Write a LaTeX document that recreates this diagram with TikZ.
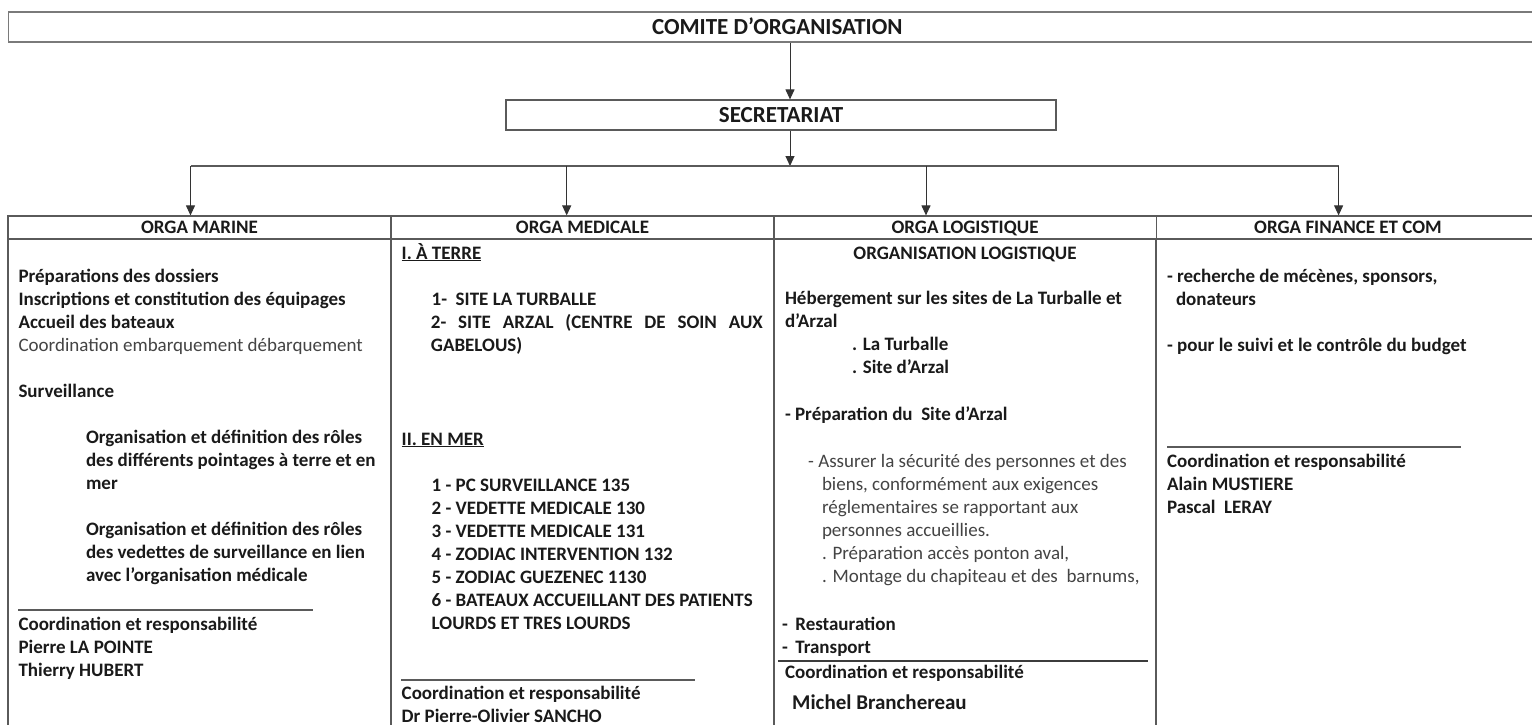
\documentclass[tikz,border=0pt]{standalone}
\usepackage{fontspec}
\setmainfont{Carlito}
\usetikzlibrary{arrows.meta}
\definecolor{ink}{HTML}{1A1A1A}
\definecolor{soft}{HTML}{444444}
\definecolor{framegray}{HTML}{7A7A7A}
\definecolor{rulegray}{HTML}{5A5A5A}
\definecolor{arrgray}{HTML}{333333}
\newcommand{\fsz}{\fontsize{19}{23}\selectfont}
\newcommand{\fbig}{\fontsize{23}{27}\selectfont}
\newcommand{\mytopstrut}{\rule{0pt}{16pt}}
\begin{document}
\begin{tikzpicture}[x=1pt,y=-1pt,
  blk/.style={anchor=north west, inner sep=0pt, outer sep=0pt, align=left, font=\fsz\bfseries, text=ink},
  line1/.style={anchor=base west, inner sep=0pt, outer sep=0pt, font=\fsz\bfseries, text=ink},
  softtxt/.style={blk, font=\fsz, text=soft},
  hdr/.style={draw=rulegray, line width=1.2pt, minimum width=383pt, minimum height=23pt, inner sep=0pt, font=\fsz\bfseries, text=ink, text height=12.2pt, text depth=0pt},
  topbox/.style={minimum height=30pt, inner sep=0pt, font=\fbig\bfseries, text=ink, text height=14.8pt, text depth=0pt},
  arr/.style={draw=arrgray, line width=1pt, -{Triangle[length=10pt,width=9pt]}},
  ruleline/.style={draw=rulegray, line width=1.1pt}]

\useasboundingbox (0,0) rectangle (1532,724);
\fill[white] (0,0) rectangle (1532,724);

% top boxes
\node[topbox, draw=framegray, line width=1.8pt, minimum width=1537.5pt] (comite) at (777.25,27) {COMITE D’ORGANISATION};
\node[topbox, draw=rulegray, line width=1.2pt, minimum width=550pt] (sec) at (781,115) {SECRETARIAT};

\coordinate (sx) at (790,0);
\coordinate (bus) at (790,166);
\coordinate (b1) at (190.5,166);
\coordinate (b2) at (566.7,166);
\coordinate (b3) at (926,166);
\coordinate (b4) at (1338.6,166);

\draw[arr] (comite.south -| sx) -- (sec.north -| sx);
\draw[arr] (sec.south -| sx) -- (bus);
\draw[ruleline] (b1) -- (b4);

% headers
\node[hdr] (h1) at (199.5,227.5) {ORGA MARINE};
\node[hdr] (h2) at (582.5,227.5) {ORGA MEDICALE};
\node[hdr] (h3) at (965,227.5) {ORGA LOGISTIQUE};
\node[hdr] (h4) at (1348,227.5) {ORGA FINANCE ET COM};

\draw[arr] (b1) -- (b1 |- h1.north);
\draw[arr] (b2) -- (b2 |- h2.north);
\draw[arr] (b3) -- (b3 |- h3.north);
\draw[arr] (b4) -- (b4 |- h4.north);

% body columns
\draw[draw=rulegray, line width=1.2pt] (8,239) -- (8,760) (391,239) -- (391,760) (774,239) -- (774,760) (1156,239) -- (1156,760);

% column 1
\node[blk] (m1) at (18.5,266.5) {\mytopstrut Préparations des dossiers\\Inscriptions et constitution des équipages\\Accueil des bateaux\\{\mdseries\color{soft}Coordination embarquement débarquement}\\[23pt]Surveillance};
\node[blk] (m2) at (86,427.5) {\mytopstrut Organisation et définition des rôles\\des différents pointages à terre et en\\mer\\[23pt]Organisation et définition des rôles\\des vedettes de surveillance en lien\\avec l’organisation médicale};
\draw[ruleline] (18,610) -- (313,610);
\node[blk] (m3) at (18.5,614.5) {\mytopstrut Coordination et responsabilité\\Pierre LA POINTE\\Thierry HUBERT};

% column 2
\node[line1] (d1) at (401.7,259) {\underline{I. À TERRE}};
\node[line1] (d2) at (431.7,305) {1-~ SITE LA TURBALLE};
\node[anchor=north west, inner sep=0pt, text width=332pt, align=justify, font=\fsz\bfseries, text=ink] (d3) at (430.7,312)
  {\mytopstrut 2- SITE ARZAL (CENTRE DE SOIN AUX\linebreak GABELOUS)};
\node[line1] (d4) at (401.7,445) {\underline{II. EN MER}};
\node[blk] (d5) at (431.7,475) {\mytopstrut 1 - PC SURVEILLANCE 135\\2 - VEDETTE MEDICALE 130\\3 - VEDETTE MEDICALE 131\\4 - ZODIAC INTERVENTION 132\\5 - ZODIAC GUEZENEC 1130\\6 - BATEAUX ACCUEILLANT DES PATIENTS\\LOURDS ET TRES LOURDS};
\draw[ruleline] (401,680) -- (695,680);
\node[blk] (d6) at (401.7,683) {\mytopstrut Coordination et responsabilité\\Dr Pierre-Olivier SANCHO};

% column 3
\node[anchor=base, inner sep=0pt, font=\fsz\bfseries, text=ink] (g1) at (965,259) {ORGANISATION LOGISTIQUE};
\node[blk] (g2) at (785,288.5) {\mytopstrut Hébergement sur les sites de La Turballe et\\d’Arzal};
\node[blk] (g3) at (852,334.5) {\mytopstrut . La Turballe\\. Site d’Arzal};
\node[line1] (g4) at (785,420.5) {- Préparation du~ Site d’Arzal};
\node[anchor=base west, inner sep=0pt, font=\fsz, text=soft] (g5) at (808,467.5) {- Assurer la sécurité des personnes et des};
\node[softtxt] (g6) at (822,474.5) {\mytopstrut biens, conformément aux exigences\\réglementaires se rapportant aux\\personnes accueillies.\\. Préparation accès ponton aval,\\. Montage du chapiteau et des~ barnums,};
\node[blk] (g7) at (782,614.5) {\mytopstrut -\hspace{7.5pt}Restauration\\-\hspace{7.5pt}Transport};
\draw[draw=ink!85, line width=2pt] (778,661) -- (1148,661);
\node[line1] (g8) at (785,678.5) {Coordination et responsabilité};
\node[anchor=base west, inner sep=0pt, font=\fontsize{21}{25}\selectfont\bfseries, text=ink] (g9) at (792,709) {Michel Branchereau};

% column 4
\node[blk] (f1) at (1167,266.5) {\mytopstrut - recherche de mécènes, sponsors,\\\hspace*{9pt}donateurs};
\node[line1] (f2) at (1167,351.5) {- pour le suivi et le contrôle du budget};
\draw[ruleline] (1167,447) -- (1461,447);
\node[blk] (f3) at (1167,451.5) {\mytopstrut Coordination et responsabilité\\Alain MUSTIERE\\Pascal~ LERAY};

\end{tikzpicture}
\end{document}
